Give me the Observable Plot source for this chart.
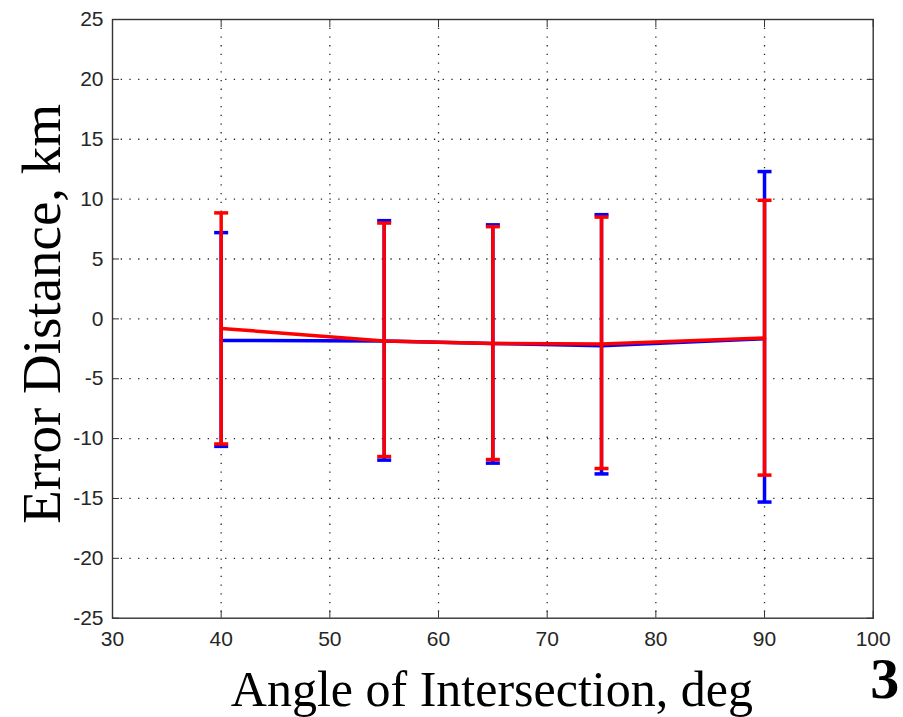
<!DOCTYPE html>
<html>
<head>
<meta charset="utf-8">
<script src="https://cdn.jsdelivr.net/npm/d3@7"></script>
<script src="https://cdn.jsdelivr.net/npm/@observablehq/plot@0.6"></script>
<style>
  html, body { margin: 0; padding: 0; background: #fff; }
</style>
</head>
<body>
<div id="chart"></div>
<script>
// ---- data ----
const angles     = [40, 55, 65, 75, 90];
const blueMean   = [-1.8, -1.85, -2.05, -2.25, -1.65];
const blueUpper  = [7.2, 8.2, 7.85, 8.7, 12.3];
const blueLower  = [-10.65, -11.8, -12.05, -12.95, -15.3];
const redMean    = [-0.8, -1.85, -2.05, -2.1, -1.6];
const redUpper   = [8.85, 8.0, 7.7, 8.5, 9.9];
const redLower   = [-10.45, -11.5, -11.75, -12.5, -13.05];
const xTicks = [30, 40, 50, 60, 70, 80, 90, 100];
const yTicks = [-25, -20, -15, -10, -5, 0, 5, 10, 15, 20, 25];
const xLabel = "Angle of Intersection, deg";
const yLabel = "Error Distance, km";
const panelTag = "3";

const series = (mean, up, lo, name) =>
  angles.map((a, i) => ({angle: a, mean: mean[i], upper: up[i], lower: lo[i], series: name}));
const blue = series(blueMean, blueUpper, blueLower, "blue");
const red = series(redMean, redUpper, redLower, "red");

const capSymbol = {
  draw(context) {
    context.moveTo(-7, 0);
    context.lineTo(7, 0);
  }
};

function errorMarks(data, color) {
  return [
    Plot.ruleX(data, {x: "angle", y1: "lower", y2: "upper", stroke: color, strokeWidth: 3.5}),
    Plot.dot(data, {x: "angle", y: "upper", symbol: capSymbol, stroke: color, strokeWidth: 3.5, r: 4}),
    Plot.dot(data, {x: "angle", y: "lower", symbol: capSymbol, stroke: color, strokeWidth: 3.5, r: 4})
  ];
}

const tickFont = {fontSize: 21, fill: "#262626", tickFormat: d => String(d)};
const serif = "'Liberation Serif', 'DejaVu Serif', serif";

const chart = Plot.plot({
  width: 903,
  height: 717,
  marginLeft: 112,
  marginRight: 30.3,
  marginTop: 19,
  marginBottom: 99.3,
  style: {fontFamily: "Arial, 'Liberation Sans', sans-serif", background: "#fff", color: "#262626"},
  x: {domain: [30, 100]},
  y: {domain: [-25, 25]},
  marks: [
    Plot.gridX(xTicks.slice(1, -1), {stroke: "#000", strokeOpacity: 0.85, strokeWidth: 1.3, strokeDasharray: "1.3,7.4"}),
    Plot.gridY(yTicks.slice(1, -1), {stroke: "#000", strokeOpacity: 0.85, strokeWidth: 1.3, strokeDasharray: "1.3,7.4"}),
    Plot.axisX(xTicks, {anchor: "bottom", tickSize: -7, tickPadding: 20, label: null, stroke: "#333", ...tickFont}),
    Plot.axisX(xTicks, {anchor: "top", tickSize: -7, label: null, stroke: "#333", tickFormat: () => ""}),
    Plot.axisY(yTicks, {anchor: "left", tickSize: -7, tickPadding: 16, label: null, stroke: "#333", ...tickFont}),
    Plot.axisY(yTicks, {anchor: "right", tickSize: -7, label: null, stroke: "#333", tickFormat: () => ""}),
    Plot.frame({stroke: "#333", strokeWidth: 1.4}),
    Plot.line(blue, {x: "angle", y: "mean", stroke: "#0000ff", strokeWidth: 3.5}),
    ...errorMarks(blue, "#0000ff"),
    Plot.line(red, {x: "angle", y: "mean", stroke: "#ff0000", strokeWidth: 3.5}),
    ...errorMarks(red, "#ff0000"),
    Plot.text([xLabel], {text: d => d, frameAnchor: "bottom", textAnchor: "middle", lineAnchor: "middle",
      dx: -1, dy: 72, fontSize: 50, fontFamily: serif, fill: "#000"}),
    Plot.text([yLabel], {text: d => d, frameAnchor: "left", textAnchor: "middle", lineAnchor: "middle",
      rotate: -90, dx: -70, dy: -5, fontSize: 55, fontFamily: serif, fill: "#000"}),
    Plot.text([panelTag], {text: d => d, frameAnchor: "bottom-right", textAnchor: "middle", lineAnchor: "middle",
      dx: 11.5, dy: 61, fontSize: 58, fontWeight: "bold", fontFamily: serif, fill: "#000"})
  ]
});
document.getElementById("chart").appendChild(chart);
</script>
</body>
</html>
